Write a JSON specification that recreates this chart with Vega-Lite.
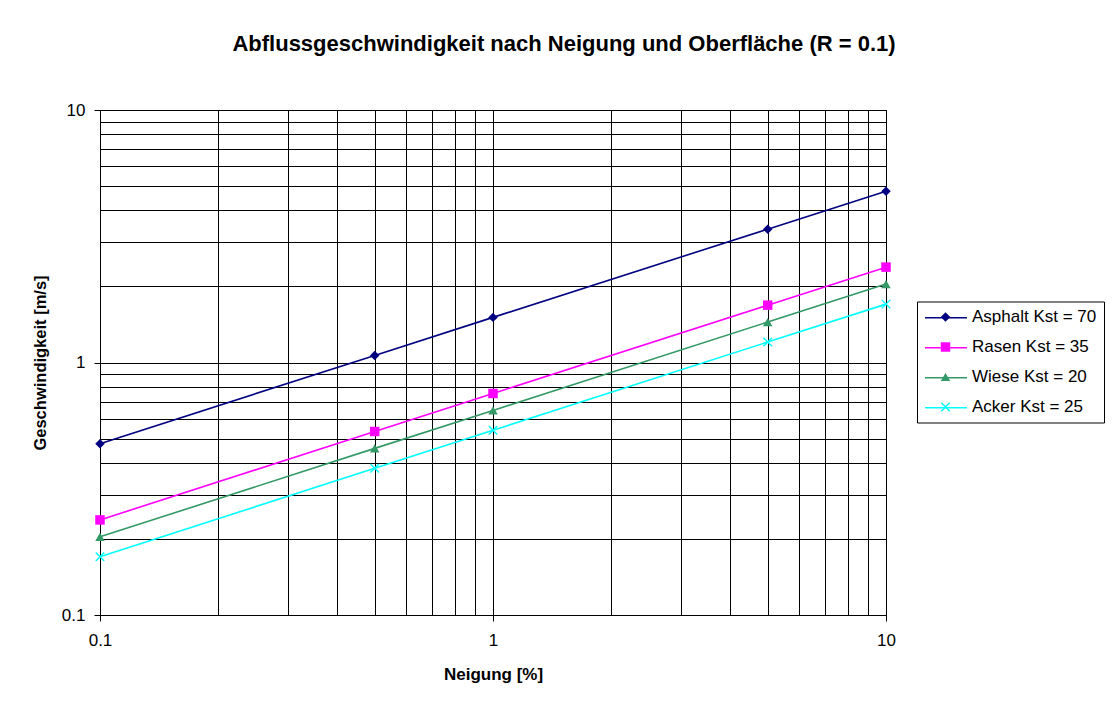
{
  "$schema": "https://vega.github.io/schema/vega-lite/v6.json",
  "width": 786,
  "height": 505,
  "autosize": {"type": "none"},
  "padding": {"left": 100, "top": 110, "right": 226, "bottom": 91},
  "background": "white",
  "title": {
    "text": "Abflussgeschwindigkeit nach Neigung und Oberfläche (R = 0.1)",
    "font": "Liberation Sans",
    "fontSize": 22,
    "fontWeight": "bold",
    "color": "black",
    "anchor": "middle",
    "frame": "group",
    "dx": 71,
    "offset": 45
  },
  "config": {
    "font": "Liberation Sans",
    "view": {"stroke": "black", "strokeWidth": 1},
    "axis": {
      "labelFont": "Liberation Sans",
      "titleFont": "Liberation Sans",
      "labelColor": "black",
      "titleColor": "black",
      "domainColor": "black",
      "tickColor": "black",
      "gridColor": "#000000",
      "gridOpacity": 1,
      "gridWidth": 1
    },
    "legend": {"labelFont": "Liberation Sans", "labelColor": "black"}
  },
  "data": {
    "values": [
      {"series": "Asphalt Kst = 70", "order": 1, "x": 0.1, "y": 0.477},
      {"series": "Asphalt Kst = 70", "order": 1, "x": 0.5, "y": 1.067},
      {"series": "Asphalt Kst = 70", "order": 1, "x": 1, "y": 1.509},
      {"series": "Asphalt Kst = 70", "order": 1, "x": 5, "y": 3.374},
      {"series": "Asphalt Kst = 70", "order": 1, "x": 10, "y": 4.771},
      {"series": "Rasen Kst = 35", "order": 2, "x": 0.1, "y": 0.238},
      {"series": "Rasen Kst = 35", "order": 2, "x": 0.5, "y": 0.533},
      {"series": "Rasen Kst = 35", "order": 2, "x": 1, "y": 0.754},
      {"series": "Rasen Kst = 35", "order": 2, "x": 5, "y": 1.687},
      {"series": "Rasen Kst = 35", "order": 2, "x": 10, "y": 2.386},
      {"series": "Wiese Kst = 20", "order": 3, "x": 0.1, "y": 0.204},
      {"series": "Wiese Kst = 20", "order": 3, "x": 0.5, "y": 0.457},
      {"series": "Wiese Kst = 20", "order": 3, "x": 1, "y": 0.646},
      {"series": "Wiese Kst = 20", "order": 3, "x": 5, "y": 1.446},
      {"series": "Wiese Kst = 20", "order": 3, "x": 10, "y": 2.045},
      {"series": "Acker Kst = 25", "order": 4, "x": 0.1, "y": 0.170},
      {"series": "Acker Kst = 25", "order": 4, "x": 0.5, "y": 0.381},
      {"series": "Acker Kst = 25", "order": 4, "x": 1, "y": 0.539},
      {"series": "Acker Kst = 25", "order": 4, "x": 5, "y": 1.205},
      {"series": "Acker Kst = 25", "order": 4, "x": 10, "y": 1.703}
    ]
  },
  "resolve": {"axis": {"x": "independent", "y": "independent"}},
  "layer": [
    {
      "mark": {"type": "line", "strokeWidth": 1.6},
      "encoding": {
        "x": {
          "field": "x",
          "type": "quantitative",
          "scale": {"type": "log", "domain": [0.1, 10], "nice": false},
          "axis": {
            "orient": "bottom",
            "values": [0.1, 0.2, 0.3, 0.4, 0.5, 0.6, 0.7, 0.8, 0.9, 1, 2, 3, 4, 5, 6, 7, 8, 9, 10],
            "grid": true,
            "labels": false,
            "ticks": false,
            "domain": false,
            "title": null
          }
        },
        "y": {
          "field": "y",
          "type": "quantitative",
          "scale": {"type": "log", "domain": [0.1, 10], "nice": false},
          "axis": {
            "orient": "left",
            "values": [0.1, 0.2, 0.3, 0.4, 0.5, 0.6, 0.7, 0.8, 0.9, 1, 2, 3, 4, 5, 6, 7, 8, 9, 10],
            "grid": true,
            "labels": false,
            "ticks": false,
            "domain": false,
            "title": null
          }
        },
        "stroke": {
          "field": "series",
          "type": "nominal",
          "scale": {
            "domain": ["Asphalt Kst = 70", "Rasen Kst = 35", "Wiese Kst = 20", "Acker Kst = 25"],
            "range": ["#000080", "#FF00FF", "#339966", "#00FFFF"]
          },
          "legend": {
            "orient": "none",
            "legendX": 817,
            "legendY": 178.7,
            "title": null,
            "symbolType": "stroke",
            "symbolSize": 1764,
            "symbolStrokeWidth": 1.6,
            "labelFontSize": 17,
            "labelOffset": 4,
            "labelExpr": "''",
            "labelLimit": 300,
            "rowPadding": 0,
            "padding": 7,
            "zindex": 0
          }
        }
      }
    },
    {
      "mark": {"type": "point", "filled": true, "size": 90, "opacity": 1},
      "encoding": {
        "x": {
          "field": "x",
          "type": "quantitative",
          "axis": {
            "orient": "bottom",
            "values": [0.1, 1, 10],
            "grid": false,
            "format": "~g",
            "labelFontSize": 17,
            "labelFlush": false,
            "tickSize": 6,
            "labelPadding": 11,
            "title": "Neigung [%]",
            "titleFontSize": 17,
            "titleFontWeight": "bold",
            "titlePadding": 18
          }
        },
        "y": {
          "field": "y",
          "type": "quantitative",
          "axis": {
            "orient": "left",
            "values": [0.1, 1, 10],
            "grid": false,
            "format": "~g",
            "labelFontSize": 17,
            "tickSize": 6,
            "labelPadding": 9,
            "title": "Geschwindigkeit [m/s]",
            "titleFontSize": 16.5,
            "titleFontWeight": "bold",
            "titlePadding": 13
          }
        },
        "color": {
          "field": "series",
          "type": "nominal",
          "sort": {"field": "order"},
          "scale": {"range": ["#000080", "#FF00FF", "#339966", "#00FFFF"]},
          "legend": {
            "orient": "none",
            "legendX": 817,
            "legendY": 191.5,
            "title": null,
            "symbolSize": 90,
            "symbolOffset": 13,
            "labelFontSize": 17,
            "labelOffset": 18,
            "labelLimit": 300,
            "rowPadding": 12,
            "padding": 7,
            "strokeColor": "black",
            "zindex": 1
          }
        },
        "shape": {
          "field": "series",
          "type": "nominal",
          "sort": {"field": "order"},
          "scale": {"range": ["diamond", "square", "triangle-up", "M-1,-0.8L-0.8,-1L0,-0.2L0.8,-1L1,-0.8L0.2,0L1,0.8L0.8,1L0,0.2L-0.8,1L-1,0.8L-0.2,0Z"]},
          "legend": {
            "orient": "none",
            "legendX": 817,
            "legendY": 191.5,
            "title": null,
            "symbolSize": 90,
            "symbolOffset": 13,
            "labelFontSize": 17,
            "labelOffset": 18,
            "labelLimit": 300,
            "rowPadding": 12,
            "padding": 7,
            "strokeColor": "black",
            "zindex": 1
          }
        }
      }
    }
  ]
}
